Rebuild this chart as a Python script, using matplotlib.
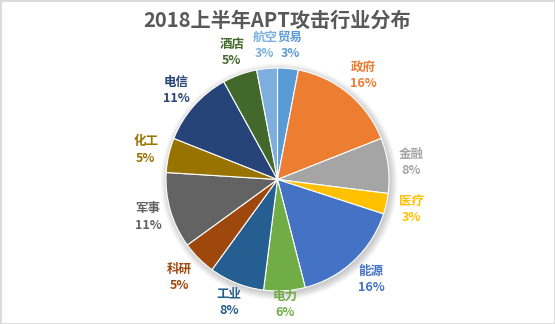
import numpy as np
import matplotlib
matplotlib.use("Agg")
import matplotlib.pyplot as plt
from matplotlib.patches import Rectangle, Circle

plt.rcParams['font.family'] = ['Noto Sans CJK SC', 'DejaVu Sans']

# data, clockwise from 12 o'clock
sectors = ['贸易', '政府', '金融', '医疗', '能源', '电力', '工业',
           '科研', '军事', '化工', '电信', '酒店', '航空']
shares = [3, 16, 8, 3, 16, 6, 8, 5, 11, 5, 11, 5, 3]

colors = ['#5B9BD5', '#ED7D31', '#A5A5A5', '#FFC000', '#4472C4', '#70AD47',
          '#255E91', '#9E480E', '#636363', '#997300', '#264478', '#43682B',
          '#7CAFDD']

# label distance (in pie radii) where the default does not fit
label_dist = {'电力': 1.12, '工业': 1.18, '科研': 1.24, '能源': 1.23, '医疗': 1.23}

W, H = 555, 324
fig = plt.figure(figsize=(W / 100, H / 100), dpi=100)

# pie centre (277.5, 179.5) px from top-left, radius 111.5 px
R = 111.5
lim = 1.4
side = 2 * R * lim
cx, cy = 277.5, H - 179.5
ax = fig.add_axes([(cx - side / 2) / W, (cy - side / 2) / H, side / W, side / H])
ax.axis('off')

# soft shadow behind the pie
for i in range(6):
    ax.add_patch(Circle((0.015, -0.02), 1.0 + 0.012 * i, color='#000000',
                        alpha=0.035, lw=0, zorder=0))

wedges, _ = ax.pie(shares, colors=colors, startangle=90, counterclock=False,
                   radius=1.0, wedgeprops=dict(edgecolor='white', linewidth=0.8))
# pie() resets the limits, so set them afterwards
ax.set_xlim(-lim, lim)
ax.set_ylim(-lim, lim)
ax.set_aspect('equal')

for w, name, val, col in zip(wedges, sectors, shares, colors):
    mid = np.deg2rad((w.theta1 + w.theta2) / 2)
    d = label_dist.get(name, 1.21)
    ax.text(d * np.cos(mid), d * np.sin(mid), f"{name}\n{val}%",
            ha='center', va='center', fontsize=9, fontweight='bold',
            color=col, linespacing=1.35)

fig.text(0.5, 1 - 20 / H, '2018上半年APT攻击行业分布', ha='center', va='center',
         fontsize=14.5, fontweight='bold', color='#595959')

fig.patches.append(Rectangle((0, 0), 1, 1, transform=fig.transFigure, fill=False,
                             edgecolor='#D9D9D9', linewidth=2))

fig.savefig('out.png', dpi=100)
